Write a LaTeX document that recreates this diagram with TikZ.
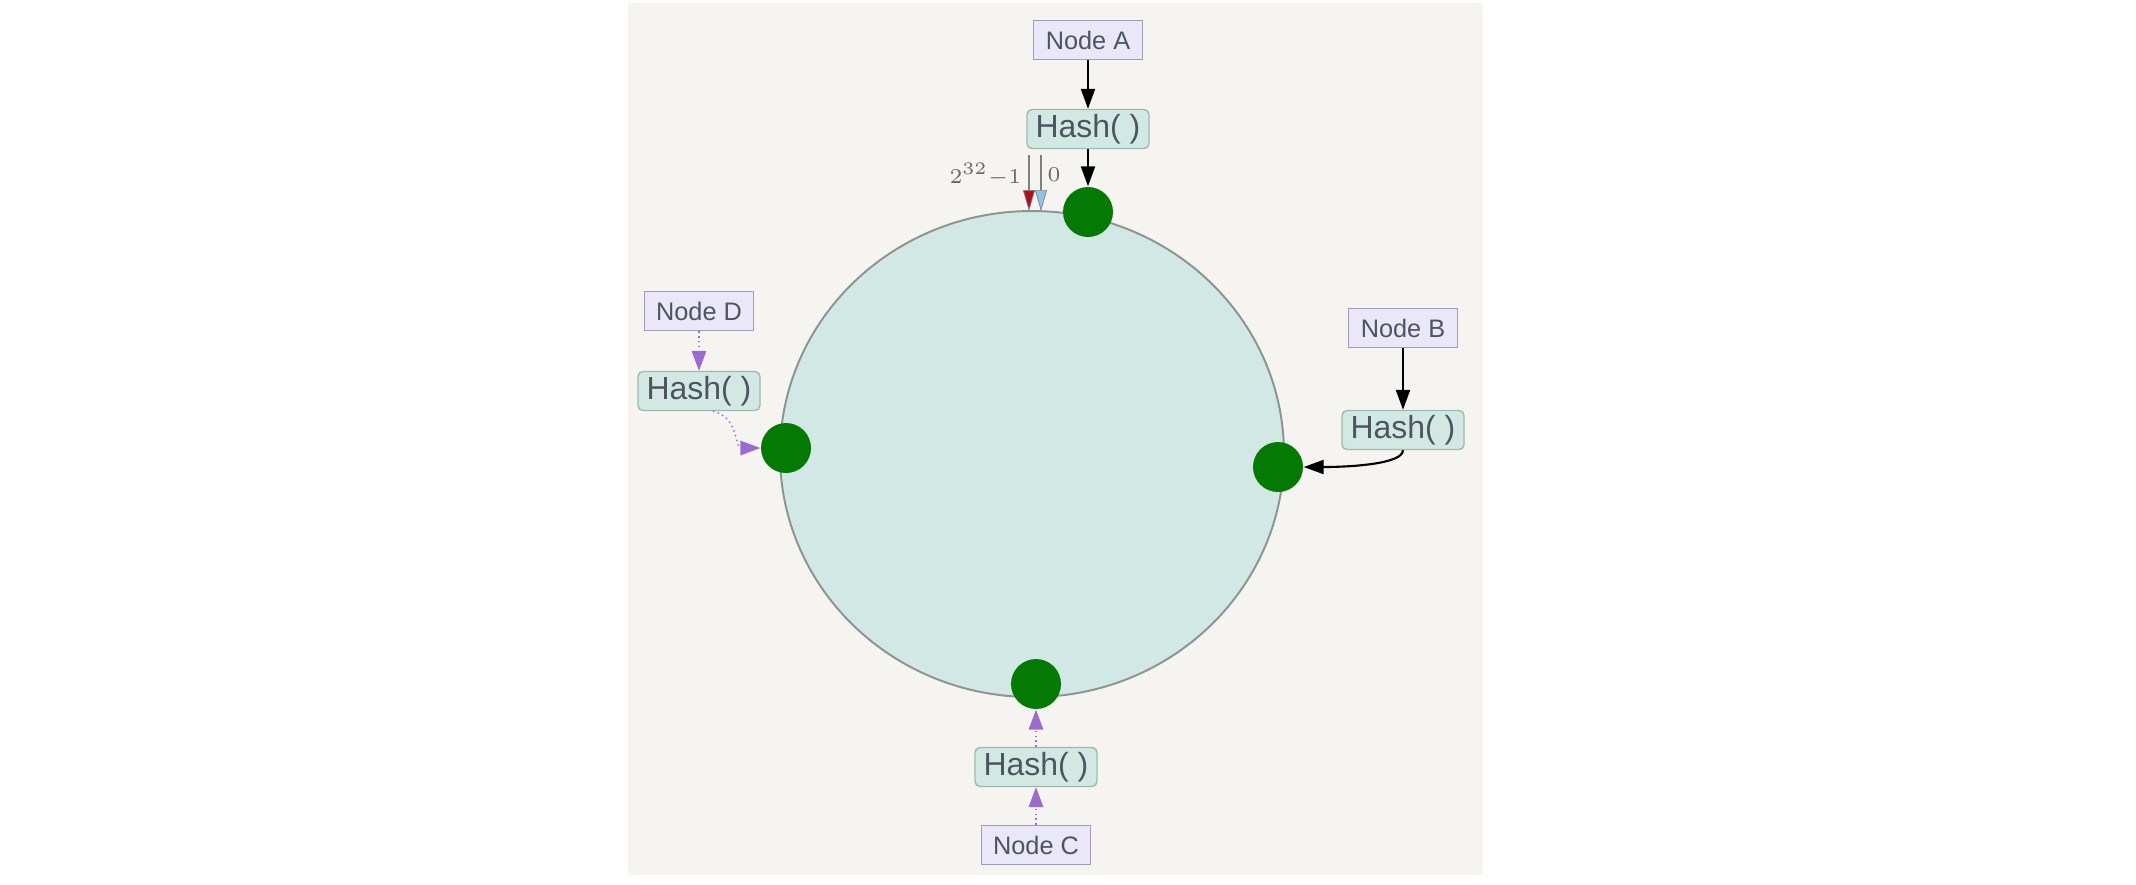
\documentclass[tikz,border=0pt]{standalone}
\usepackage{fontspec}
\setmainfont{Liberation Sans}
\usetikzlibrary{arrows.meta}
\definecolor{panel}{RGB}{245,244,240}
\definecolor{ringfill}{RGB}{209,232,228}
\definecolor{ringline}{RGB}{140,148,145}
\definecolor{dotgreen}{RGB}{4,122,4}
\definecolor{nodefill}{RGB}{233,231,248}
\definecolor{nodeline}{RGB}{160,156,180}
\definecolor{hashfill}{RGB}{210,233,227}
\definecolor{hashline}{RGB}{157,186,178}
\definecolor{labtext}{RGB}{78,85,96}
\definecolor{marktext}{RGB}{105,105,105}
\definecolor{purp}{RGB}{155,107,208}
\definecolor{maxred}{RGB}{176,16,32}
\definecolor{zeroblue}{RGB}{140,196,232}
\begin{document}
\begin{tikzpicture}[x=0.1mm,y=-0.1mm,
  nodebox/.style={draw=nodeline,fill=nodefill,line width=0.4pt,text=labtext,
    minimum width=10.9mm,minimum height=3.9mm,inner sep=0pt,
    font=\fontsize{7.2}{8}\selectfont},
  hashbox/.style={draw=hashline,fill=hashfill,line width=0.4pt,rounded corners=0.5mm,
    text=labtext,minimum width=12.2mm,minimum height=3.9mm,inner sep=0pt,
    font=\fontsize{9.1}{10}\selectfont},
  dot/.style={circle,fill=dotgreen,minimum size=5mm,inner sep=0pt},
  blackarr/.style={line width=0.6pt,-{Triangle[length=2mm,width=1.4mm]}},
  purparr/.style={purp,line width=0.4pt,densely dotted,
    -{Triangle[length=2mm,width=1.5mm,fill=purp,line width=0pt]}},
  marker/.style={line width=0.3pt,draw=gray},
  marklab/.style={inner sep=0pt,text=marktext,font=\fontsize{5.6}{6}\selectfont}]
\useasboundingbox (0,0) rectangle (2136,884);
\fill[white] (0,0) rectangle (2136,884);
\fill[panel] (628,3) rectangle (1483,875);
% the ring
\draw[draw=ringline,fill=ringfill,line width=0.55pt] (1032,454) ellipse [x radius=25.2mm,y radius=24.3mm];
% 2^32-1 and 0 marks
\coordinate (maxtop) at (1029,155);
\coordinate (maxend) at (1029,211);
\coordinate (zerotop) at (1041,155);
\coordinate (zeroend) at (1041,211);
\draw[marker,-{Triangle[length=2.1mm,width=1.2mm,fill=maxred,line width=0.2pt]}] (maxtop) -- (maxend);
\draw[marker,-{Triangle[length=2.1mm,width=1.2mm,fill=zeroblue,line width=0.2pt]}] (zerotop) -- (zeroend);
\node[marklab,left] (maxlab) at (1022,175) {$2^{\scriptscriptstyle 32}{-}1$};
\node[marklab,right] (zerolab) at (1047,175) {$0$};
% node A
\node[nodebox] (nA) at (1088,40) {Node A};
\node[hashbox] (hA) at (1088,129) {Hash( )};
\node[dot] (pA) at (1088,212) {};
\draw[blackarr] (nA) -- (hA);
\draw[blackarr] (hA) -- (pA);
% node B
\node[nodebox] (nB) at (1403,328) {Node B};
\node[hashbox] (hB) at (1403,430) {Hash( )};
\node[dot] (pB) at (1278,467) {};
\draw[blackarr] (nB) -- (hB);
\draw[blackarr] (hB.south) .. controls +(0,14) and +(45,0) .. (pB.east);
% node C
\node[nodebox] (nC) at (1036,845) {Node C};
\node[hashbox] (hC) at (1036,767) {Hash( )};
\node[dot] (pC) at (1036,684) {};
\draw[purparr] (nC) -- (hC);
\draw[purparr] (hC) -- (pC);
% node D
\node[nodebox] (nD) at (699,311) {Node D};
\node[hashbox] (hD) at (699,391) {Hash( )};
\node[dot] (pD) at (786,448) {};
\draw[purparr] (nD) -- (hD);
\draw[purparr] ([xshift=1.4mm]hD.south) .. controls +(25,5) and +(-25,0) .. (pD.west);
\end{tikzpicture}
\end{document}
